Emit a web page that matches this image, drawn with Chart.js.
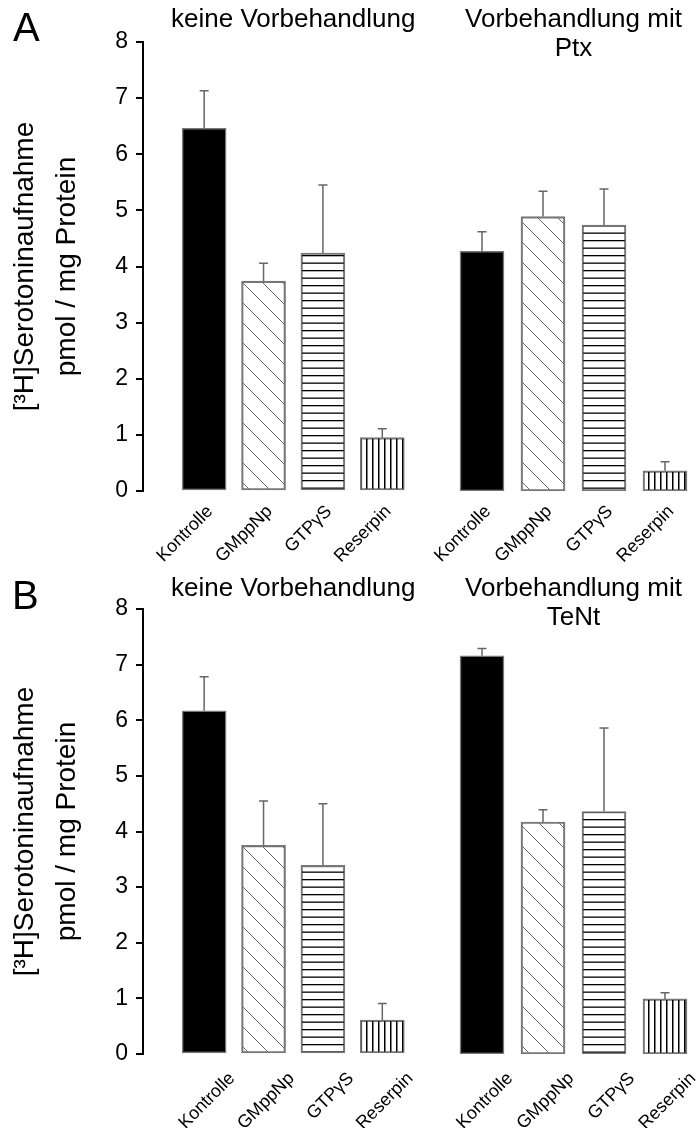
<!DOCTYPE html>
<html lang="de">
<head>
<meta charset="utf-8">
<title>[3H]Serotoninaufnahme</title>
<script src="https://cdn.jsdelivr.net/npm/chart.js@4.4.1/dist/chart.umd.min.js"></script>
<style>
  html, body { margin: 0; padding: 0; background: #fff; }
  #pagina { position: relative; width: 699px; height: 1128px; overflow: hidden; }
  .panel { position: absolute; left: 0; width: 699px; height: 564px; }
  .panel canvas { position: absolute; top: 0; }
  .letra { position: absolute; font: 40px 'Liberation Sans', Arial, sans-serif; line-height: 40px; color: #000; }
</style>
</head>
<body>
<div id="pagina">
  <div class="panel" style="top:0">
    <canvas id="aIzq" width="440" height="564" style="left:0"></canvas>
    <canvas id="aDer" width="279" height="564" style="left:420px"></canvas>
    <div class="letra" style="left:13px;top:7px">A</div>
  </div>
  <div class="panel" style="top:564px">
    <canvas id="bIzq" width="440" height="564" style="left:0"></canvas>
    <canvas id="bDer" width="279" height="564" style="left:420px"></canvas>
    <div class="letra" style="left:12px;top:11px">B</div>
  </div>
</div>
<script>
// Datos (media y error)
const categorias = ['Kontrolle', 'GMppNp', 'GTPγS', 'Reserpin'];
const yTicks = [0, 1, 2, 3, 4, 5, 6, 7, 8];

const aKeine = [6.46, 3.74, 4.24, 0.95];
const aKeineErr = [0.67, 0.32, 1.21, 0.16];
const aPtx = [4.27, 4.89, 4.74, 0.36];
const aPtxErr = [0.35, 0.45, 0.64, 0.16];

const bKeine = [6.17, 3.75, 3.39, 0.61];
const bKeineErr = [0.61, 0.80, 1.11, 0.30];
const bTent = [7.16, 4.17, 4.36, 0.99];
const bTentErr = [0.13, 0.22, 1.50, 0.11];

const tituloY = ['[³H]Serotoninaufnahme', 'pmol / mg Protein'];
const fuente = "'Liberation Sans', Arial, sans-serif";

Chart.defaults.font.family = fuente;
Chart.defaults.color = '#000';

// Patrones de relleno (rayado)
function crearPatron(tipo) {
    const c = document.createElement('canvas');
    const g = c.getContext('2d');
    if (tipo === 'diagonal') {
        c.width = 20; c.height = 20;
        g.strokeStyle = '#6a6a6a';
        g.lineWidth = 1;
        g.beginPath();
        g.moveTo(-2, -2); g.lineTo(22, 22);
        g.moveTo(-22, -2); g.lineTo(2, 22);
        g.moveTo(18, -2); g.lineTo(42, 22);
        g.stroke();
    } else if (tipo === 'horizontal') {
        c.width = 4; c.height = 15;
        g.fillStyle = '#000';
        g.fillRect(0, 0, 4, 1.3);
        g.fillRect(0, 7.5, 4, 1.3);
    } else {
        c.width = 6; c.height = 4;
        g.fillStyle = '#000';
        g.fillRect(0, 0, 1.5, 4);
    }
    return g.createPattern(c, 'repeat');
}

const rellenos = ['#000', crearPatron('diagonal'), crearPatron('horizontal'), crearPatron('vertical')];

// Barras de error (solo hacia arriba)
const barrasError = {
    id: 'barrasError',
    afterDatasetsDraw(chart) {
        const ctx = chart.ctx;
        const y = chart.scales.y;
        chart.data.datasets.forEach((ds, d) => {
            chart.getDatasetMeta(d).data.forEach((bar, i) => {
                const v = typeof ds.data[i] === 'object' ? ds.data[i].y : ds.data[i];
                const arriba = y.getPixelForValue(v + ds.errores[i]);
                ctx.save();
                ctx.strokeStyle = '#666';
                ctx.lineWidth = 1.5;
                ctx.beginPath();
                ctx.moveTo(bar.x, bar.y);
                ctx.lineTo(bar.x, arriba);
                ctx.moveTo(bar.x - 4.5, arriba);
                ctx.lineTo(bar.x + 4.5, arriba);
                ctx.stroke();
                ctx.restore();
            });
        });
    }
};

// Título de cada grupo, centrado sobre sus barras
const tituloGrupo = {
    id: 'tituloGrupo',
    afterDraw(chart, args, opts) {
        const barras = chart.getDatasetMeta(0).data;
        const xc = (barras[0].x + barras[barras.length - 1].x) / 2;
        const ctx = chart.ctx;
        ctx.save();
        ctx.font = '26px ' + fuente;
        ctx.fillStyle = '#000';
        ctx.textAlign = 'center';
        ctx.textBaseline = 'alphabetic';
        opts.lineas.forEach((t, i) => {
            ctx.fillText(t, xc, chart.chartArea.top - opts.distancia + i * 29);
        });
        ctx.restore();
    }
};

function opcionesEjeX(cfg, extra) {
    return Object.assign({
        grid: { display: false },
        border: { display: false },
        afterFit: s => { s.height = cfg.altoX; },
        ticks: {
            autoSkip: false,
            minRotation: 45,
            maxRotation: 45,
            labelOffset: cfg.desplaz,
            padding: cfg.sepX,
            color: '#000',
            font: { size: 18 }
        }
    }, extra);
}

function opcionesDataset(valores, errores, conX) {
    return {
        data: conX ? valores.map((v, i) => ({ x: i, y: v })) : valores,
        errores: errores,
        backgroundColor: rellenos,
        borderColor: '#777',
        borderWidth: 1.5,
        borderSkipped: false,
        barThickness: 44
    };
}

// Panel: grupo izquierdo con eje Y, grupo derecho sin eje
function renderizarPanel(idIzq, idDer, cfg) {
    const ejeX = opcionesEjeX(cfg, {
        type: 'linear',
        min: -1.03,
        max: 3.5,
        offset: false,
        afterBuildTicks: s => { s.ticks = categorias.map((c, i) => ({ value: i })); }
    });
    ejeX.ticks.callback = v => categorias[v] ?? '';

    new Chart(document.getElementById(idIzq), {
        type: 'bar',
        data: { datasets: [opcionesDataset(cfg.izq, cfg.izqErr, true)] },
        options: {
            responsive: false,
            animation: false,
            layout: { padding: { top: cfg.arriba, left: 4, right: 28, bottom: 0 } },
            plugins: {
                legend: { display: false },
                tooltip: { enabled: false },
                tituloGrupo: { lineas: cfg.tituloIzq, distancia: cfg.distTitulo }
            },
            scales: {
                x: ejeX,
                y: {
                    min: yTicks[0],
                    max: yTicks[yTicks.length - 1],
                    ticks: { stepSize: 1, color: '#000', font: { size: 23 }, padding: 8 },
                    grid: { drawOnChartArea: false, drawTicks: true, tickLength: 7, color: '#000', lineWidth: 2 },
                    border: { color: '#000', width: 2 },
                    title: {
                        display: true,
                        text: tituloY,
                        color: '#000',
                        font: { size: 28, lineHeight: 1.5 },
                        padding: { top: 0, bottom: 0 }
                    },
                    afterFit: s => { s.width = 139; }
                }
            }
        },
        plugins: [barrasError, tituloGrupo]
    });

    new Chart(document.getElementById(idDer), {
        type: 'bar',
        data: { labels: categorias, datasets: [opcionesDataset(cfg.der, cfg.derErr, false)] },
        options: {
            responsive: false,
            animation: false,
            layout: { padding: { top: cfg.arriba, left: 31.5, right: 3.5, bottom: 0 } },
            plugins: {
                legend: { display: false },
                tooltip: { enabled: false },
                tituloGrupo: { lineas: cfg.tituloDer, distancia: cfg.distTitulo }
            },
            scales: {
                x: opcionesEjeX(cfg, {}),
                y: { display: false, min: yTicks[0], max: yTicks[yTicks.length - 1] }
            }
        },
        plugins: [barrasError, tituloGrupo]
    });
}

renderizarPanel('aIzq', 'aDer', {
    izq: aKeine, izqErr: aKeineErr, der: aPtx, derErr: aPtxErr,
    tituloIzq: ['keine Vorbehandlung'], tituloDer: ['Vorbehandlung mit', 'Ptx'],
    arriba: 42, altoX: 73, desplaz: 6, sepX: 2, distTitulo: 15
});

renderizarPanel('bIzq', 'bDer', {
    izq: bKeine, izqErr: bKeineErr, der: bTent, derErr: bTentErr,
    tituloIzq: ['keine Vorbehandlung'], tituloDer: ['Vorbehandlung mit', 'TeNt'],
    arriba: 45, altoX: 74, desplaz: 28, sepX: 6, distTitulo: 13
});
</script>
</body>
</html>
